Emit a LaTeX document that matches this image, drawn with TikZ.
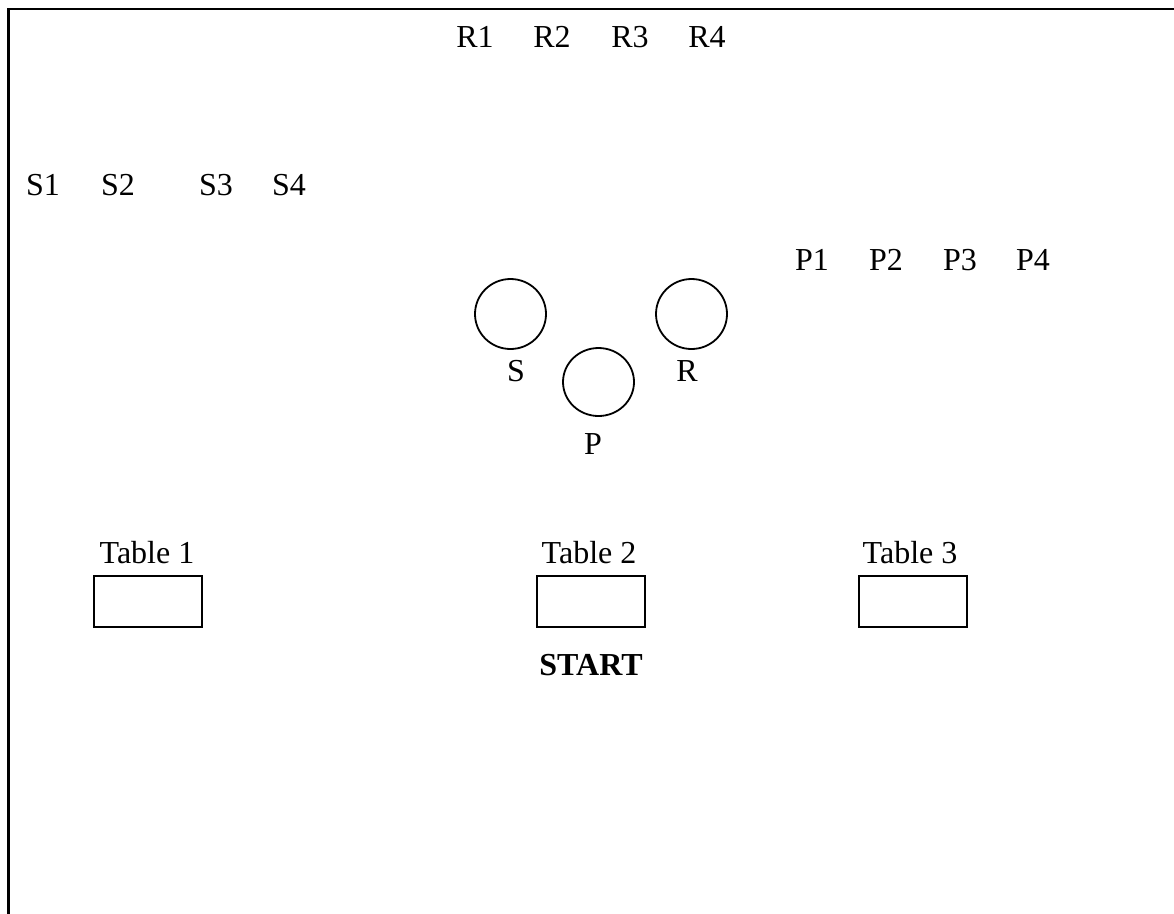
\documentclass[tikz,border=0pt]{standalone}
\usepackage{fontspec}
\setmainfont{Liberation Serif}
\usetikzlibrary{shapes.geometric}
\begin{document}
\begin{tikzpicture}[x=1pt,y=-1pt,
  lbl/.style={inner sep=0pt,font=\fontsize{32}{38}\selectfont},
  agent/.style={draw,line width=1.8pt,ellipse,minimum width=71pt,minimum height=70pt,inner sep=0pt},
  tablebox/.style={draw,line width=1.8pt,rectangle,minimum width=108pt,minimum height=51pt,inner sep=0pt}]
  \useasboundingbox (0,0) rectangle (1174,913);
  % frame: only top and left edges lie inside the page
  \draw[line width=2.5pt] (8.5,930) -- (8.5,9) -- (1190,9);

  % robot queue
  \node[lbl] (r1) at (475,37) {R1};
  \node[lbl] (r2) at (552,37) {R2};
  \node[lbl] (r3) at (630,37) {R3};
  \node[lbl] (r4) at (707,37) {R4};

  % scissors queue
  \node[lbl] (s1) at (43,185) {S1};
  \node[lbl] (s2) at (118,185) {S2};
  \node[lbl] (s3) at (216,185) {S3};
  \node[lbl] (s4) at (289,185) {S4};

  % paper queue
  \node[lbl] (p1) at (812,260) {P1};
  \node[lbl] (p2) at (886,260) {P2};
  \node[lbl] (p3) at (960,260) {P3};
  \node[lbl] (p4) at (1033,260) {P4};

  % players
  \node[agent] (cs) at (510.5,314) {};
  \node[agent] (cr) at (691.5,314) {};
  \node[agent,minimum height=68pt] (cp) at (598.5,382) {};
  \node[lbl] (ls) at (516,371) {S};
  \node[lbl] (lr) at (687,371) {R};
  \node[lbl] (lp) at (593,444) {P};

  % tables
  \node[tablebox] (t1) at (148,601.5) {};
  \node[tablebox] (t2) at (591,601.5) {};
  \node[tablebox] (t3) at (913,601.5) {};
  \node[lbl] (lt1) at (147,553) {Table 1};
  \node[lbl] (lt2) at (589,553) {Table 2};
  \node[lbl] (lt3) at (910,553) {Table 3};

  \node[lbl,font=\fontsize{32}{38}\selectfont\bfseries] (start) at (591,665) {START};
\end{tikzpicture}
\end{document}
